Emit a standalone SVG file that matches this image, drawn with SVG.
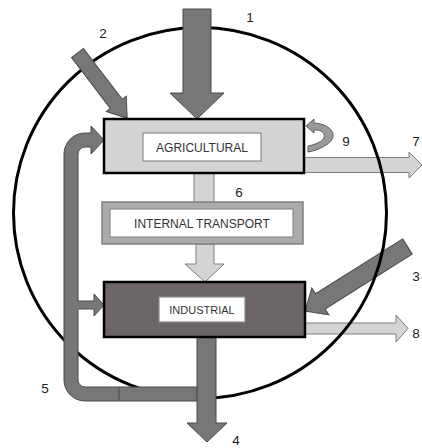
<svg xmlns="http://www.w3.org/2000/svg" width="422" height="448" viewBox="0 0 422 448">
  <style>
    .dark { fill: #777777; stroke: #4a4a4a; stroke-width: 1; stroke-linejoin: miter; }
    .light { fill: #d4d4d4; stroke: #7f7f7f; stroke-width: 1; }
    .box { stroke: #000000; stroke-width: 2.5; }
    .lbl { fill: #ffffff; stroke: #8a8a8a; stroke-width: 1.2; }
    .t { font-family: "Liberation Sans", Arial, sans-serif; fill: #333333; text-anchor: middle; }
    .num { font-family: "Liberation Sans", Arial, sans-serif; font-size: 13.5px; fill: #222222; text-anchor: middle; }
  </style>
  <rect x="0" y="0" width="422" height="448" fill="#ffffff"/>

  <g id="connectors">
    <!-- flows drawn below the boundary line -->
    <g id="flow-3"><polygon class="dark" points="0,-9 103,-9 103,-16 121,0 103,16 103,9 0,9" transform="translate(407.5,246.5) rotate(147.8)"/></g>
    <g id="flow-7"><polygon class="light" points="304,157.5 409,157.5 409,152 422,165 409,178 409,172.5 304,172.5"/></g>
    <g id="flow-8"><polygon class="light" points="305,323 396,323 396,315 408,328.5 396,342 396,334 305,334"/></g>

    <ellipse id="system-boundary" cx="200" cy="213" rx="186.5" ry="185.5" fill="none" stroke="#000000" stroke-width="3"/>

    <g id="flow-1"><polygon class="dark" points="183,9 211,9 211,93 224,93 197,119 170,93 183,93"/></g>
    <g id="flow-2"><polygon class="dark" points="0,-7.5 64,-7.5 64,-12.5 82,0 64,12.5 64,7.5 0,7.5" transform="translate(77.5,53) rotate(52.7)"/></g>
    <g id="flow-5">
      <path class="dark" d="M 91 133 L 91 126 L 104 140 L 91 154 L 91 147 L 85 147 A 7 7 0 0 0 78 154 L 78 301 L 94 301 L 94 294 L 104 305 L 94 316 L 94 309 L 78 309 L 78 380 A 7 7 0 0 0 85 387 L 197 387 L 197 401 L 85 401 A 21 21 0 0 1 64 380 L 64 154 A 21 21 0 0 1 85 133 Z"/>
      <line x1="119" y1="387" x2="119" y2="401" stroke="#4a4a4a" stroke-width="1"/>
    </g>
    <g id="flow-4"><polygon class="dark" points="197,337 216,337 216,423 227,423 207,442 187,423 197,423"/></g>
    <g id="flow-6"><rect class="light" x="194" y="173" width="20" height="30"/></g>
    <g id="flow-transport"><polygon class="light" points="196,244 214,244 214,264 224,264 205,282 185,264 196,264"/></g>
    <g id="flow-9"><path d="M 306 126 L 314 119 L 314 123 C 332 124 340 137 326 145 C 320 149 314 151 308 152 L 308 146 C 318 144 326 140 324 134 C 322 130 318 130 314 130 L 314 133 Z" fill="#9a9a9a" stroke="#5e5e5e" stroke-width="1"/></g>
  </g>

  <g id="agricultural">
    <rect class="box" x="104" y="119" width="200" height="54" fill="#d3d3d3"/>
    <rect class="lbl" x="143" y="133" width="118" height="28"/>
    <text class="t" x="202" y="151.5" font-size="12">AGRICULTURAL</text>
  </g>

  <g id="internal-transport">
    <rect x="102" y="202" width="201" height="42" fill="#ababab" stroke="#808080" stroke-width="1.5"/>
    <rect class="lbl" x="110" y="209" width="183" height="28"/>
    <text class="t" x="202" y="227.5" font-size="12">INTERNAL TRANSPORT</text>
  </g>

  <g id="industrial">
    <rect class="box" x="104" y="282" width="201" height="55" fill="#6b6565"/>
    <rect class="lbl" x="159" y="297" width="86" height="25" stroke="#6b6565"/>
    <text class="t" x="202" y="313.5" font-size="11">INDUSTRIAL</text>
  </g>

  <g id="labels">
    <text class="num" x="250" y="22">1</text>
    <text class="num" x="103" y="38">2</text>
    <text class="num" x="416" y="281">3</text>
    <text class="num" x="236" y="445">4</text>
    <text class="num" x="45" y="393">5</text>
    <text class="num" x="239" y="197">6</text>
    <text class="num" x="416" y="146">7</text>
    <text class="num" x="416" y="338">8</text>
    <text class="num" x="346" y="146">9</text>
  </g>
</svg>
